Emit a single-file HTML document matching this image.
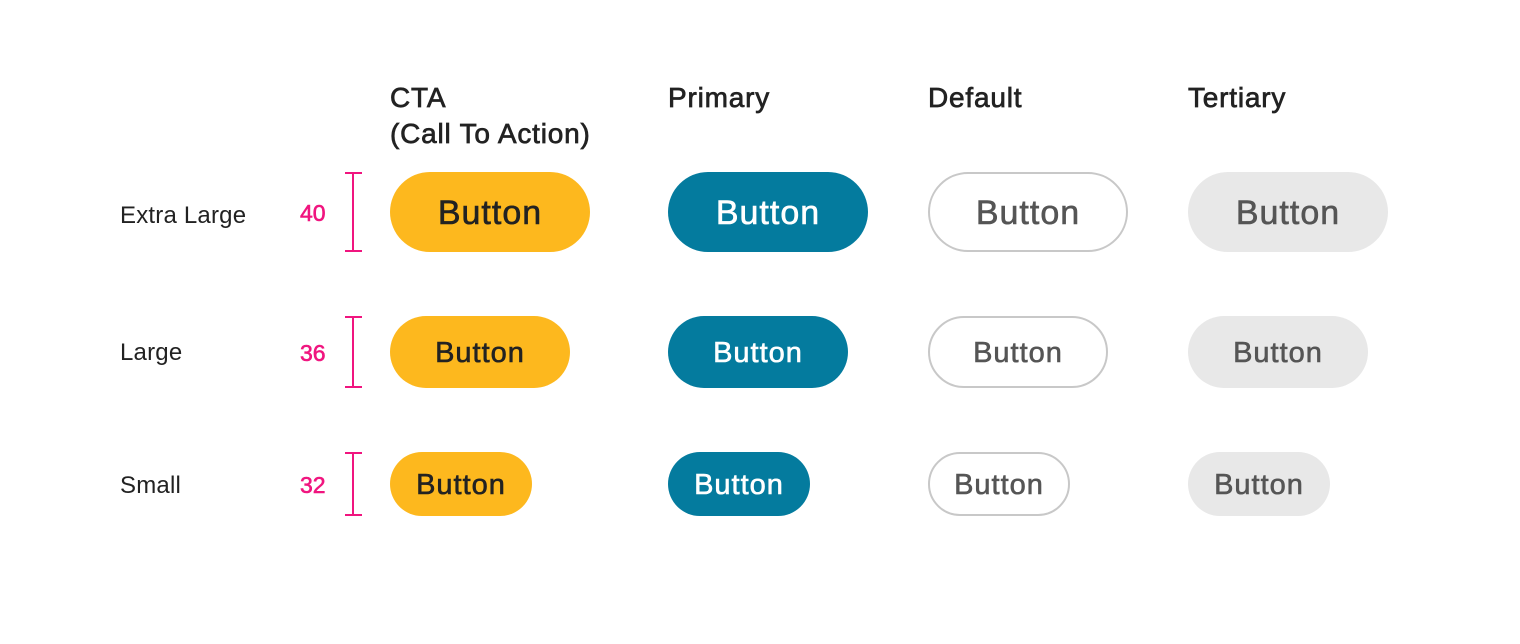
<!DOCTYPE html>
<html><head><style>
body{margin:0;width:1520px;height:644px;background:#fff;font-family:"Liberation Sans",sans-serif;position:relative;overflow:hidden}
.a{position:absolute;white-space:nowrap}
.h{font-size:28px;color:#222;line-height:36px;-webkit-text-stroke:0.7px #222;letter-spacing:0.8px}
.l{font-size:24px;color:#222;letter-spacing:0.2px}
.n{font-size:23px;color:#f0157f;-webkit-text-stroke:0.6px #f0157f}
.b{position:absolute;display:flex;align-items:center;justify-content:center;box-sizing:border-box;border-radius:40px;-webkit-text-stroke:0.6px currentColor;letter-spacing:1px}
.c{background:#fdb81e;color:#222}
.p{background:#047b9e;color:#fff}
.d{background:#fff;border:2px solid #c8c8c8;color:#555}
.t{background:#e8e8e8;color:#555}
.r1{top:172px;height:80px;width:200px;font-size:34px;padding-top:2px}
.r2{top:316px;height:72px;width:180px;font-size:29px;padding-top:2px}
.r3{top:452px;height:64px;width:142px;font-size:29px;padding-top:2px}
.m{position:absolute;left:345px;width:17px;border-top:2px solid #f0157f;border-bottom:2px solid #f0157f;box-sizing:border-box}
.m:after{content:"";position:absolute;left:7px;top:0;bottom:0;width:2px;background:#f0157f}
</style></head><body>
<div class="a h" style="left:390px;top:80px">CTA<br>(Call To Action)</div>
<div class="a h" style="left:668px;top:80px">Primary</div>
<div class="a h" style="left:928px;top:80px">Default</div>
<div class="a h" style="left:1188px;top:80px">Tertiary</div>

<div class="a l" style="left:120px;top:202px">Extra Large</div>
<div class="a l" style="left:120px;top:339px">Large</div>
<div class="a l" style="left:120px;top:472px">Small</div>
<div class="a n" style="left:300px;top:200px">40</div>
<div class="a n" style="left:300px;top:340px">36</div>
<div class="a n" style="left:300px;top:472px">32</div>
<div class="m" style="top:172px;height:80px"></div>
<div class="m" style="top:316px;height:72px"></div>
<div class="m" style="top:452px;height:64px"></div>

<div class="b c r1" style="left:390px">Button</div>
<div class="b p r1" style="left:668px">Button</div>
<div class="b d r1" style="left:928px">Button</div>
<div class="b t r1" style="left:1188px">Button</div>

<div class="b c r2" style="left:390px">Button</div>
<div class="b p r2" style="left:668px">Button</div>
<div class="b d r2" style="left:928px">Button</div>
<div class="b t r2" style="left:1188px">Button</div>

<div class="b c r3" style="left:390px">Button</div>
<div class="b p r3" style="left:668px">Button</div>
<div class="b d r3" style="left:928px">Button</div>
<div class="b t r3" style="left:1188px">Button</div>
</body></html>
